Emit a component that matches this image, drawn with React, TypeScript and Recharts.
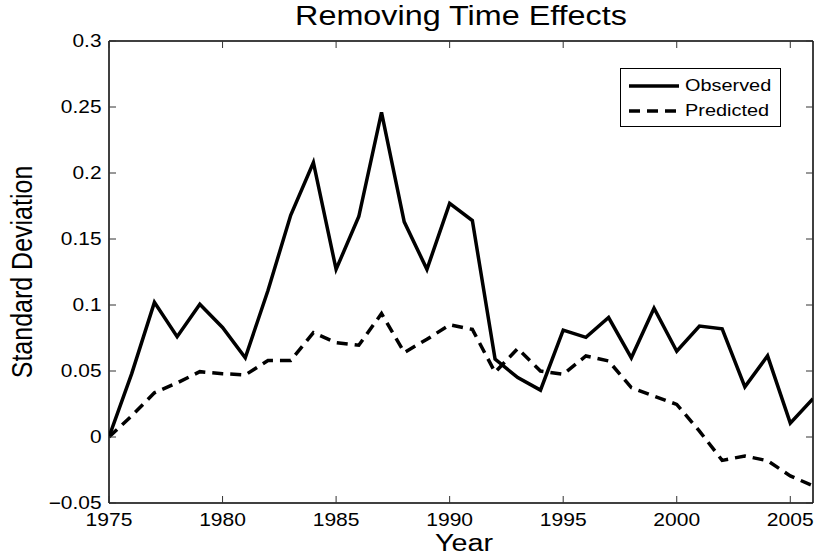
import React from 'react';
import { LineChart, Line, XAxis, YAxis, Legend } from 'recharts';

const years = [1975, 1976, 1977, 1978, 1979, 1980, 1981, 1982, 1983, 1984, 1985, 1986, 1987, 1988, 1989, 1990, 1991, 1992, 1993, 1994, 1995, 1996, 1997, 1998, 1999, 2000, 2001, 2002, 2003, 2004, 2005, 2006];
const observed = [0, 0.048, 0.102, 0.076, 0.1005, 0.083, 0.06, 0.111, 0.168, 0.208, 0.127, 0.167, 0.246, 0.163, 0.127, 0.177, 0.164, 0.059, 0.045, 0.0355, 0.081, 0.0755, 0.0905, 0.06, 0.0975, 0.065, 0.084, 0.082, 0.038, 0.0615, 0.0105, 0.029];
const predicted = [0, 0.016, 0.0335, 0.041, 0.0495, 0.048, 0.047, 0.058, 0.058, 0.079, 0.0715, 0.0695, 0.0935, 0.064, 0.074, 0.085, 0.0815, 0.049, 0.067, 0.05, 0.0475, 0.0614, 0.0576, 0.0374, 0.031, 0.0247, 0.0045, -0.0177, -0.0144, -0.018, -0.0295, -0.037];
const xTicks = [1975, 1980, 1985, 1990, 1995, 2000, 2005];
const yTicks = [-0.05, 0, 0.05, 0.1, 0.15, 0.2, 0.25, 0.3];
const seriesNames = ['Observed', 'Predicted'];
const titleText = 'Removing Time Effects';
const xLabelText = 'Year';
const yLabelText = 'Standard Deviation';

const rows = years.map((year, i) => ({ year, observed: observed[i], predicted: predicted[i] }));

const FONT = '"Liberation Sans", Arial, Helvetica, sans-serif';
const TICK_LEN = 7;
const TICK_COLOR = '#333';
const X_MARGIN = 10;
const Y_MARGIN = 7.5;

const fmtY = (v: number) => {
  if (v === 0) return '0';
  const s = String(Math.round(Math.abs(v) * 100) / 100);
  return v < 0 ? '\u2212' + s : s;
};

const BottomTick = (props: any) => {
  const { x, y, payload } = props;
  return (
    <g transform={`translate(${x},${y})`}>
      <line x1={0} y1={-X_MARGIN} x2={0} y2={-X_MARGIN - TICK_LEN} stroke={TICK_COLOR} strokeWidth={1} />
      <text transform="scale(1.17,1)" textAnchor="middle" dy="0.71em" fontSize={18} fontFamily={FONT} fill="#000">
        {payload.value}
      </text>
    </g>
  );
};

const TopTick = (props: any) => {
  const { x, y } = props;
  return (
    <g transform={`translate(${x},${y})`}>
      <line x1={0} y1={0} x2={0} y2={TICK_LEN} stroke={TICK_COLOR} strokeWidth={1} />
    </g>
  );
};

const LeftTick = (props: any) => {
  const { x, y, payload } = props;
  return (
    <g transform={`translate(${x},${y})`}>
      <line x1={Y_MARGIN} y1={0} x2={Y_MARGIN + TICK_LEN} y2={0} stroke={TICK_COLOR} strokeWidth={1} />
      <text transform="scale(1.16,1)" textAnchor="end" dy="0.355em" fontSize={18} fontFamily={FONT} fill="#000">
        {fmtY(payload.value)}
      </text>
    </g>
  );
};

const RightTick = (props: any) => {
  const { x, y } = props;
  return (
    <g transform={`translate(${x},${y})`}>
      <line x1={0} y1={0} x2={-TICK_LEN} y2={0} stroke={TICK_COLOR} strokeWidth={1} />
    </g>
  );
};

const TitleLabel = (props: any) => {
  const vb = props.viewBox || {};
  const cx = vb.x + vb.width / 2;
  const cy = vb.y + vb.height - 16;
  return (
    <g transform={`translate(${cx},${cy})`}>
      <text transform="scale(1.155,1)" textAnchor="middle" fontSize={28} fontFamily={FONT} fill="#000">
        {titleText}
      </text>
    </g>
  );
};

const XLabel = (props: any) => {
  const vb = props.viewBox || {};
  const cx = vb.x + vb.width / 2 + 3;
  const cy = vb.y + 48;
  return (
    <g transform={`translate(${cx},${cy})`}>
      <text transform="scale(1.25,1)" textAnchor="middle" fontSize={23} fontFamily={FONT} fill="#000">
        {xLabelText}
      </text>
    </g>
  );
};

const YLabel = (props: any) => {
  const vb = props.viewBox || {};
  const cx = vb.x + 32;
  const cy = vb.y + vb.height / 2;
  return (
    <g transform={`translate(${cx},${cy}) scale(1.2,1) rotate(-90)`}>
      <text textAnchor="middle" fontSize={25} fontFamily={FONT} fill="#000">
        {yLabelText}
      </text>
    </g>
  );
};

const LegendBox = (props: any) => {
  const payload = (props.payload || []).filter((e: any) => e.type !== 'none');
  return (
    <div
      style={{
        border: '1.5px solid #000',
        background: '#fff',
        padding: '4px 8px 4px 8px',
        boxSizing: 'border-box',
        width: 161,
        height: 59,
      }}
    >
      {payload.map((entry: any, i: number) => (
        <div key={i} style={{ display: 'flex', alignItems: 'center', height: 25 }}>
          <svg width={50} height={10} style={{ marginRight: 6 }}>
            <line
              x1={0}
              y1={5}
              x2={50}
              y2={5}
              stroke="#000"
              strokeWidth={3.5}
              strokeDasharray={entry.payload && entry.payload.strokeDasharray}
            />
          </svg>
          <span
            style={{
              fontFamily: FONT,
              fontSize: 17,
              color: '#000',
              display: 'inline-block',
              transform: 'scaleX(1.17)',
              transformOrigin: 'left center',
              whiteSpace: 'nowrap',
            }}
          >
            {entry.value}
          </span>
        </div>
      ))}
    </div>
  );
};

export default function App() {
  return (
    <div style={{ position: 'absolute', left: 0, top: 0, width: 814, height: 559, background: '#fff' }}>
      <LineChart width={814} height={559} data={rows} margin={{ top: 40, right: 0, bottom: 0, left: 0 }}>
        <XAxis
          xAxisId="b"
          dataKey="year"
          type="number"
          domain={[1975, 2006]}
          ticks={xTicks}
          allowDataOverflow
          orientation="bottom"
          height={56}
          tickSize={0}
          tickMargin={X_MARGIN}
          tick={<BottomTick />}
          tickLine={false}
          axisLine={{ stroke: '#000', strokeWidth: 1.5 }}
          label={(p: any) => <XLabel {...p} />}
        />
        <XAxis
          xAxisId="t"
          dataKey="year"
          type="number"
          domain={[1975, 2006]}
          ticks={xTicks}
          allowDataOverflow
          orientation="top"
          height={1}
          tickSize={0}
          tickMargin={0}
          tick={<TopTick />}
          tickLine={false}
          axisLine={{ stroke: '#000', strokeWidth: 1.5 }}
          label={(p: any) => <TitleLabel {...p} />}
        />
        <YAxis
          yAxisId="l"
          type="number"
          domain={[-0.05, 0.3]}
          ticks={yTicks}
          allowDataOverflow
          width={109}
          tickSize={0}
          tickMargin={Y_MARGIN}
          tick={<LeftTick />}
          tickLine={false}
          axisLine={{ stroke: '#000', strokeWidth: 1.5 }}
          label={(p: any) => <YLabel {...p} />}
        />
        <YAxis
          yAxisId="r"
          orientation="right"
          type="number"
          domain={[-0.05, 0.3]}
          ticks={yTicks}
          allowDataOverflow
          width={1}
          tickSize={0}
          tickMargin={0}
          tick={<RightTick />}
          tickLine={false}
          axisLine={{ stroke: '#000', strokeWidth: 1.5 }}
        />
        <Legend
          layout="vertical"
          align="center"
          verticalAlign="middle"
          wrapperStyle={{ left: 620, top: 68, width: 161, height: 59 }}
          content={(p: any) => <LegendBox {...p} />}
        />
        <Line
          xAxisId="t"
          yAxisId="r"
          type="linear"
          dataKey="observed"
          stroke="none"
          strokeOpacity={0}
          legendType="none"
          dot={false}
          activeDot={false}
          isAnimationActive={false}
        />
        <Line
          xAxisId="b"
          yAxisId="l"
          type="linear"
          dataKey="observed"
          name={seriesNames[0]}
          stroke="#000"
          strokeWidth={3.5}
          dot={false}
          activeDot={false}
          isAnimationActive={false}
        />
        <Line
          xAxisId="b"
          yAxisId="l"
          type="linear"
          dataKey="predicted"
          name={seriesNames[1]}
          stroke="#000"
          strokeWidth={3.5}
          strokeDasharray="11 7"
          dot={false}
          activeDot={false}
          isAnimationActive={false}
        />
      </LineChart>
    </div>
  );
}
